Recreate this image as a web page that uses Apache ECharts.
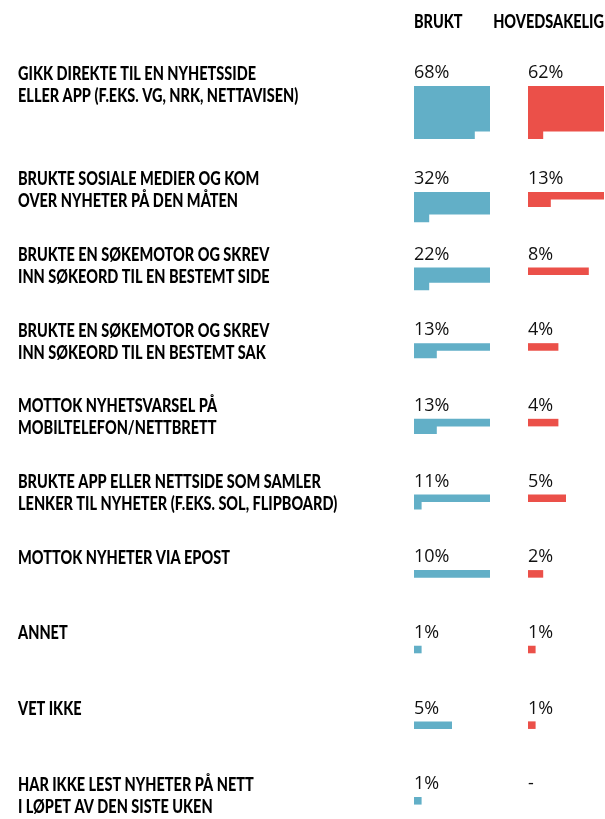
<!DOCTYPE html>
<html>
<head>
<meta charset="utf-8">
<script src="https://cdn.jsdelivr.net/npm/echarts@6/dist/echarts.min.js"></script>
<style>
  html, body { margin: 0; padding: 0; background: #fff; }
  #chart { width: 605px; height: 819px; }
</style>
</head>
<body>
<div id="chart"></div>
<script>
// ---- data ----
const categories = [
  "GIKK DIREKTE TIL EN NYHETSSIDE\nELLER APP (F.EKS. VG, NRK, NETTAVISEN)",
  "BRUKTE SOSIALE MEDIER OG KOM\nOVER NYHETER PÅ DEN MÅTEN",
  "BRUKTE EN SØKEMOTOR OG SKREV\nINN SØKEORD TIL EN BESTEMT SIDE",
  "BRUKTE EN SØKEMOTOR OG SKREV\nINN SØKEORD TIL EN BESTEMT SAK",
  "MOTTOK NYHETSVARSEL PÅ\nMOBILTELEFON/NETTBRETT",
  "BRUKTE APP ELLER NETTSIDE SOM SAMLER\nLENKER TIL NYHETER (F.EKS. SOL, FLIPBOARD)",
  "MOTTOK NYHETER VIA EPOST",
  "ANNET",
  "VET IKKE",
  "HAR IKKE LEST NYHETER PÅ NETT\nI LØPET AV DEN SISTE UKEN"
];
const brukt        = [68, 32, 22, 13, 13, 11, 10, 1, 5, 1];
const hovedsakelig = [62, 13, 8, 4, 4, 5, 2, 1, 1, null];
const seriesNames  = ["BRUKT", "HOVEDSAKELIG"];

// ---- layout / style ----
const PER_ROW = 10;          // units per row of the stepped bar
const BLUE = '#62afc7';
const RED = '#eb5049';
const LABEL_FONT = { fontFamily: 'Lato, "Liberation Sans", sans-serif', fontWeight: 900, fontSize: 18 };
const VALUE_FONT = { fontFamily: '"Open Sans", "Noto Sans", sans-serif', fontSize: 18, fontWeight: 'normal' };

// condense the bold label font so the first label line spans ~238px, as in the reference
const ctx = document.createElement('canvas').getContext('2d');
ctx.font = '900 18px Lato, "Liberation Sans", sans-serif';
const LABEL_SCALE = 238 / ctx.measureText('GIKK DIREKTE TIL EN NYHETSSIDE').width;

function rowTop(i) { return i * 10 + (i > 0 ? 4 : 0); }

function makeRender(color, withLabel) {
  return function (params, api) {
    const i = api.value(0);
    const v = api.value(1);
    const top = rowTop(i);
    const p0 = api.coord([0, top]);
    const children = [];
    if (v == null || isNaN(v)) {
      children.push({ type: 'text', x: p0[0], y: p0[1] - 13,
        style: Object.assign({ text: '-', fill: '#111', verticalAlign: 'middle', align: 'left' }, VALUE_FONT) });
    } else {
      const full = Math.floor(v / PER_ROW), rem = v % PER_ROW;
      let pts;
      if (full === 0) pts = [[0, top], [rem, top], [rem, top + 1], [0, top + 1]];
      else if (rem === 0) pts = [[0, top], [PER_ROW, top], [PER_ROW, top + full], [0, top + full]];
      else pts = [[0, top], [PER_ROW, top], [PER_ROW, top + full], [rem, top + full], [rem, top + full + 1], [0, top + full + 1]];
      children.push({ type: 'polygon', shape: { points: pts.map(p => api.coord(p)) }, style: { fill: color } });
      children.push({ type: 'text', x: p0[0], y: p0[1] - 13,
        style: Object.assign({ text: v + '%', fill: '#111', verticalAlign: 'middle', align: 'left' }, VALUE_FONT) });
    }
    if (withLabel) {
      children.push({ type: 'text', x: 18, y: p0[1] - 23.3, scaleX: LABEL_SCALE,
        style: Object.assign({ text: categories[i], fill: '#000', verticalAlign: 'top', align: 'left', lineHeight: 22 }, LABEL_FONT) });
    }
    return { type: 'group', children };
  };
}

const chart = echarts.init(document.getElementById('chart'), null, { renderer: 'canvas' });
const gridTop = 86, rowPx = 7.564, yMax = 95;
const yAxisBase = { type: 'value', min: 0, max: yMax, inverse: true, show: false };
const xAxisBase = { type: 'value', min: 0, max: PER_ROW, show: false };

chart.setOption({
  animation: false,
  grid: [
    { left: 414, width: 76, top: gridTop, height: yMax * rowPx },
    { left: 528, width: 76, top: gridTop, height: yMax * rowPx }
  ],
  xAxis: [Object.assign({ gridIndex: 0 }, xAxisBase), Object.assign({ gridIndex: 1 }, xAxisBase)],
  yAxis: [Object.assign({ gridIndex: 0 }, yAxisBase), Object.assign({ gridIndex: 1 }, yAxisBase)],
  graphic: [
    { type: 'text', x: 414, y: 22.5, scaleX: LABEL_SCALE,
      style: Object.assign({ text: seriesNames[0], fill: '#000', verticalAlign: 'middle', align: 'left' }, LABEL_FONT) },
    { type: 'text', x: 604, y: 22.5, scaleX: LABEL_SCALE,
      style: Object.assign({ text: seriesNames[1], fill: '#000', verticalAlign: 'middle', align: 'right' }, LABEL_FONT) }
  ],
  series: [
    { type: 'custom', name: seriesNames[0], xAxisIndex: 0, yAxisIndex: 0,
      renderItem: makeRender(BLUE, true),
      data: brukt.map((v, i) => [i, v]) },
    { type: 'custom', name: seriesNames[1], xAxisIndex: 1, yAxisIndex: 1,
      renderItem: makeRender(RED, false),
      data: hovedsakelig.map((v, i) => [i, v == null ? '-' : v]) }
  ]
});
</script>
</body>
</html>
